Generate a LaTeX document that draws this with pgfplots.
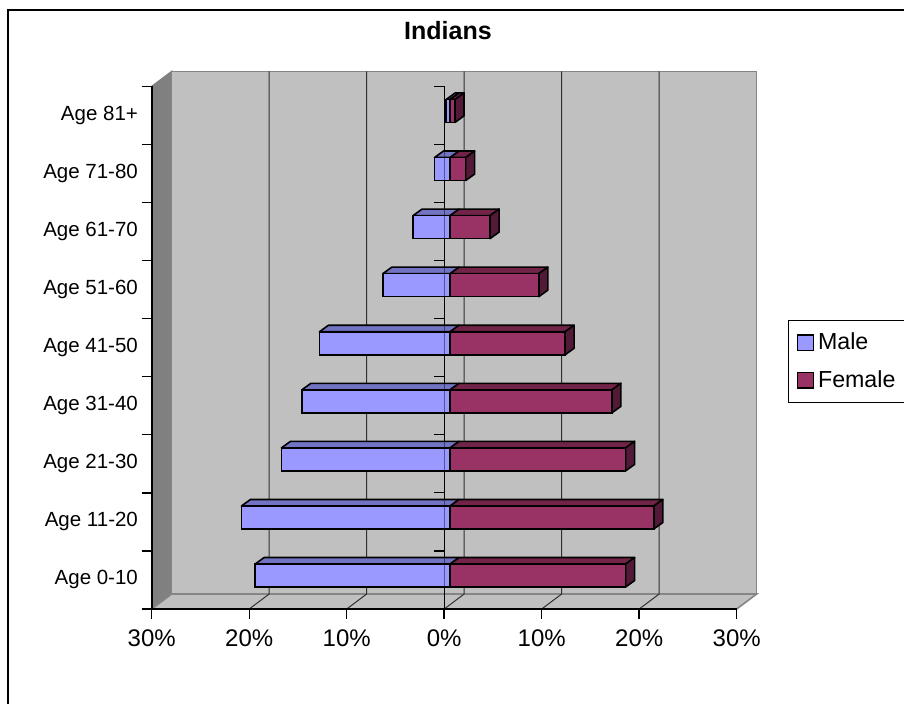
\documentclass[border=0pt]{standalone}
\usepackage{fontspec}
\setmainfont{Liberation Sans}
\usepackage{pgfplots}
\usepackage{pgfplotstable}
\pgfplotsset{compat=1.18}

\definecolor{malefront}{HTML}{9999FF}
\definecolor{maletop}{HTML}{7373C4}
\definecolor{femfront}{HTML}{993366}
\definecolor{femtop}{HTML}{722448}
\definecolor{femside}{HTML}{521A37}
\definecolor{wallgray}{HTML}{C0C0C0}
\definecolor{sidegray}{HTML}{808080}
\definecolor{edgegray}{HTML}{858585}
\definecolor{gridc}{HTML}{303030}

% share of each age group, in percent
\pgfplotstableread{
idx male female
0 20.0 18.0
1 21.4 20.9
2 17.3 18.0
3 15.2 16.6
4 13.4 11.8
5 6.9 9.1
6 3.8 4.1
7 1.6 1.6
8 0.4 0.5
}\pyramid

% depth of the walls, position and depth of the bars (axis units)
\def\wdx{2.051}\def\wdy{0.2583}
\def\ox{0.605}\def\oy{0.0758}
\def\bdx{0.923}\def\bdy{0.112}
\def\bh{0.396}

\begin{document}
\begin{tikzpicture}
\fill[white] (0,0) rectangle (452pt,352pt);
\draw[line width=0.9pt] (4.15pt,-2pt) -- (4.15pt,347pt) -- (460pt,347pt);
\node[font=\fontsize{12.5}{14}\selectfont\bfseries, anchor=base] at (224pt,332pt) {Indians};

\begin{axis}[
  at={(75.85pt,47.5pt)}, anchor=south west,
  scale only axis, width=292.5pt, height=261.35pt,
  xmin=-30, xmax=30, ymin=-0.5, ymax=8.5,
  clip=false, axis on top,
  axis x line*=bottom, axis y line*=left,
  axis line style={black, line width=0.8pt},
  tick align=outside, major tick length=5pt,
  tick style={black, line width=0.7pt},
  xtick={-30,-20,-10,0,10,20,30},
  xticklabels={30\%,20\%,10\%,0\%,10\%,20\%,30\%},
  xticklabel style={font=\fontsize{12}{14}\selectfont, inner sep=0pt, yshift=-5pt},
  ytick={-0.5,0.5,...,8.5},
  yticklabel={\mbox{}},
  extra y ticks={0,1,...,8},
  extra y tick labels={Age 0-10,Age 11-20,Age 21-30,Age 31-40,Age 41-50,Age 51-60,Age 61-70,Age 71-80,Age 81+},
  extra y tick style={major tick length=0pt,
    yticklabel style={font=\fontsize{10.25}{12}\selectfont, inner sep=0pt, xshift=-6.7pt}},
  legend style={at={(1.0882,0.5529)}, anchor=north west, draw=black, line width=0.6pt,
    font=\fontsize{11.6}{13}\selectfont, inner xsep=4pt, inner ysep=4pt, row sep=5pt},
  legend cell align=left,
]
% walls and floor
\addplot[forget plot, fill=sidegray, draw=sidegray, line width=0.6pt]
  coordinates {(-30,-0.5) (-30,8.5) (-30+\wdx,8.5+\wdy) (-30+\wdx,-0.5+\wdy)} -- cycle;
\addplot[forget plot, fill=wallgray, draw=edgegray, line width=0.8pt]
  coordinates {(-30+\wdx,-0.5+\wdy) (-30+\wdx,8.5+\wdy) (30+\wdx,8.5+\wdy) (30+\wdx,-0.5+\wdy)} -- cycle;
\addplot[forget plot, fill=wallgray, draw=edgegray, line width=0.8pt]
  coordinates {(-30,-0.5) (30,-0.5) (30+\wdx,-0.5+\wdy) (-30+\wdx,-0.5+\wdy)} -- cycle;
% gridlines on the back wall and the floor
\pgfplotsinvokeforeach{-20,-10,0,10,20}{
  \addplot[forget plot, gridc, line width=0.5pt]
    coordinates {(#1,-0.5) (#1+\wdx,-0.5+\wdy) (#1+\wdx,8.5+\wdy)};
}
% category axis at zero
\addplot[forget plot, black, line width=0.6pt] coordinates {(0,-0.5) (0,8.5)};
\pgfplotsinvokeforeach{0.5,1.5,...,8.5}{
  \addplot[forget plot, black, line width=0.6pt] coordinates {(-1.026,#1) (0,#1)};
}
% top faces of the male bars
\pgfplotsinvokeforeach{0,...,8}{
  \pgfplotstablegetelem{#1}{male}\of\pyramid
  \pgfmathsetmacro\yt{#1+\oy+\bh/2}
  \pgfmathsetmacro\ytt{\yt+\bdy}
  \pgfmathsetmacro\ml{-\pgfplotsretval+\ox}
  \pgfmathsetmacro\mlb{\ml+\bdx}
  \pgfmathsetmacro\zrb{\ox+\bdx}
  \edef\temp{\noexpand\addplot[forget plot, fill=maletop, draw=black, line width=0.8pt, line join=round]
    coordinates {(\ml,\yt) (\ox,\yt) (\zrb,\ytt) (\mlb,\ytt)} -- cycle;}
  \temp
}
\addplot[forget plot, xbar, bar shift=0pt, bar width=\bh, xshift=2.95pt, yshift=2.2pt,
  fill=malefront, draw=black, line width=0.8pt]
  table[x expr=-\thisrow{male}, y=idx] {\pyramid};
% top and side faces of the female bars
\pgfplotsinvokeforeach{0,...,8}{
  \pgfplotstablegetelem{#1}{female}\of\pyramid
  \pgfmathsetmacro\yt{#1+\oy+\bh/2}
  \pgfmathsetmacro\yb{#1+\oy-\bh/2}
  \pgfmathsetmacro\ytt{\yt+\bdy}
  \pgfmathsetmacro\ybb{\yb+\bdy}
  \pgfmathsetmacro\fr{\pgfplotsretval+\ox}
  \pgfmathsetmacro\frb{\fr+\bdx}
  \pgfmathsetmacro\zrb{\ox+\bdx}
  \edef\temp{\noexpand\addplot[forget plot, fill=femtop, draw=black, line width=0.8pt, line join=round]
    coordinates {(\ox,\yt) (\fr,\yt) (\frb,\ytt) (\zrb,\ytt)} -- cycle;
    \noexpand\addplot[forget plot, fill=femside, draw=black, line width=0.8pt, line join=round]
    coordinates {(\fr,\yb) (\frb,\ybb) (\frb,\ytt) (\fr,\yt)} -- cycle;}
  \temp
}
\addplot[forget plot, xbar, bar shift=0pt, bar width=\bh, xshift=2.95pt, yshift=2.2pt,
  fill=femfront, draw=black, line width=0.8pt]
  table[x=female, y=idx] {\pyramid};
% zero line seen through the bars
\addplot[forget plot, black, opacity=0.45, line width=0.6pt] coordinates {(0,-0.5) (0,8.5)};

\addlegendimage{legend image code/.code={\draw[fill=malefront, draw=black, line width=0.6pt] (0pt,-3.8pt) rectangle (8pt,3.8pt);}}
\addlegendentry{Male}
\addlegendimage{legend image code/.code={\draw[fill=femfront, draw=black, line width=0.6pt] (0pt,-3.8pt) rectangle (8pt,3.8pt);}}
\addlegendentry{Female}
\end{axis}
\pgfresetboundingbox
\path (0,0) rectangle (452pt,352pt);
\end{tikzpicture}
\end{document}
